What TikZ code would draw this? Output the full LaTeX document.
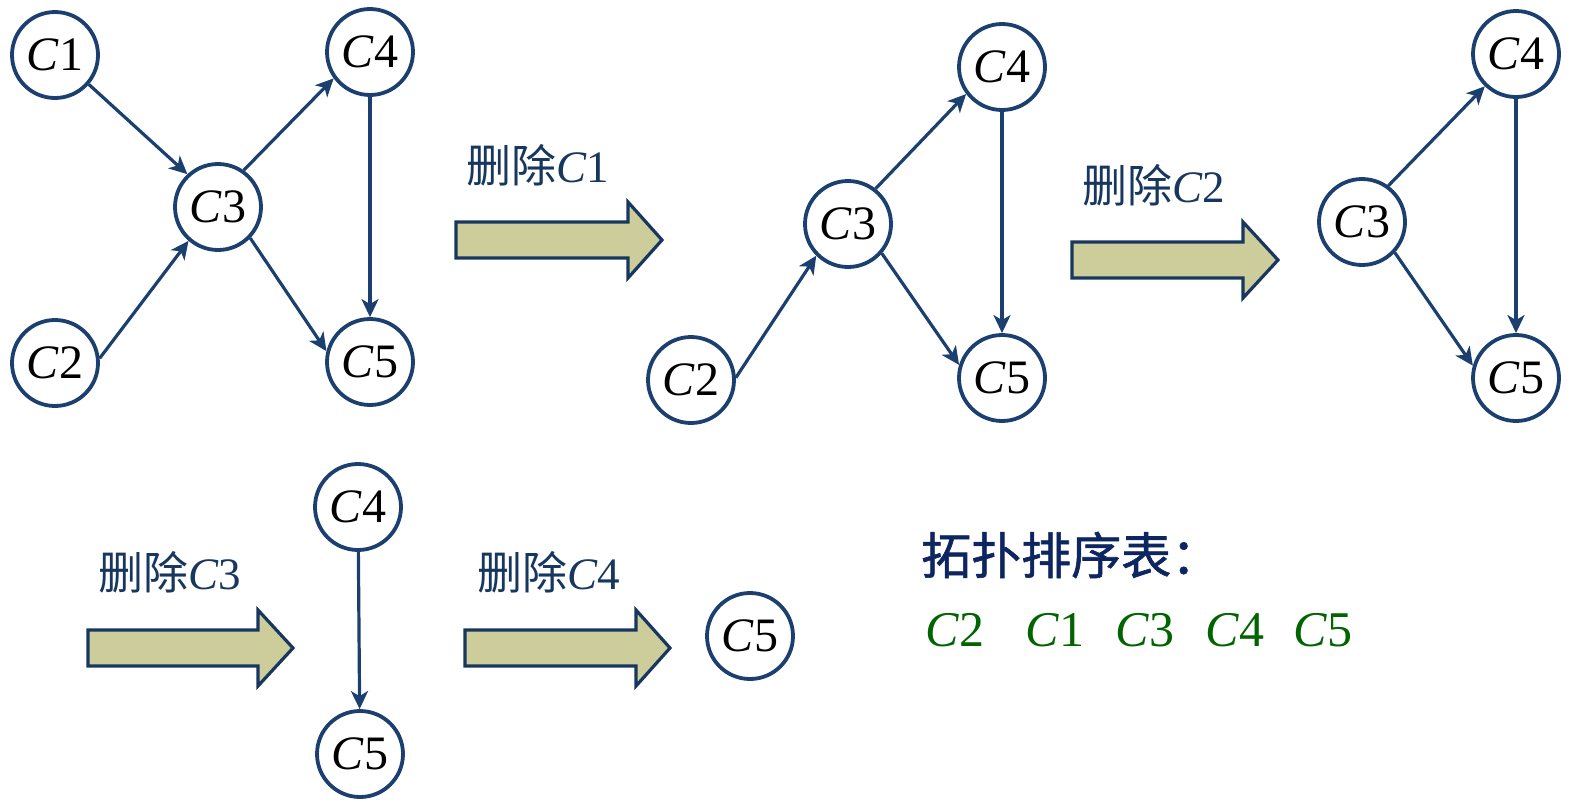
\documentclass[tikz,border=0pt]{standalone}
\usepackage{fontspec}
\setmainfont{Liberation Serif}
\newfontfamily\cjk{Noto Sans CJK SC}
\newfontfamily\cjkm[FakeBold=1.2]{Noto Sans CJK SC}
\usetikzlibrary{arrows.meta}
\definecolor{edge}{HTML}{1B3F6E}
\definecolor{navy}{HTML}{17375E}
\definecolor{titlenavy}{HTML}{0E2660}
\definecolor{khaki}{HTML}{CDCD9C}
\definecolor{seqgreen}{HTML}{006400}
\tikzset{
  vtx/.style={circle,draw=edge,line width=3.8pt,fill=white,minimum size=86pt,inner sep=0pt,font=\fontsize{48}{48}\selectfont},
  conn/.style={draw=edge,line width=3.2pt,-{Stealth[length=18pt,width=17pt,inset=5pt]}},
  fatarrow/.style={draw=navy,line width=3.2pt,fill=khaki,line join=miter},
  lbl/.style={text=navy,font=\fontsize{45}{45}\selectfont,inner sep=0pt},
  seq/.style={text=seqgreen,font=\fontsize{50}{50}\selectfont,inner sep=0pt}
}
\newcommand{\cc}[1]{\textit{C}#1}
\newcommand{\fat}[4]{% x0, x1 (head start), xtip, ymid
  \path[fatarrow] (#1,#4-18) -- (#2,#4-18) -- (#2,#4-38) -- (#3,#4) -- (#2,#4+38) -- (#2,#4+18) -- (#1,#4+18) -- cycle;}
\begin{document}
\begin{tikzpicture}[x=1pt,y=-1pt]
\useasboundingbox (0,0) rectangle (1571,801);
% graph 1
\node[vtx] (a1) at (55,55) {\cc1};
\node[vtx] (a4) at (370,52) {\cc4};
\node[vtx] (a3) at (218,207) {\cc3};
\node[vtx] (a2) at (55,363) {\cc2};
\node[vtx] (a5) at (370,362) {\cc5};
\draw[conn] (a1.-41) -- (a3.133);
\draw[conn] (a2.6) -- (a3.229);
\draw[conn] (a3.55) -- (a4.216);
\draw[conn] (a3.-44) -- (a5.166);
\draw[conn] (a4) -- (a5);
% arrow 1
\fat{456}{628}{662}{240}
\node[lbl] (l1) at (538,165) {{\cjk 删除}\cc1};
% graph 2
\node[vtx] (b4) at (1002,67) {\cc4};
\node[vtx] (b3) at (848,224) {\cc3};
\node[vtx] (b2) at (691,380) {\cc2};
\node[vtx] (b5) at (1002,378) {\cc5};
\draw[conn] (b2.3) -- (b3.225);
\draw[conn] (b3.52) -- (b4.217);
\draw[conn] (b3.-41) -- (b5.163);
\draw[conn] (b4) -- (b5);
% arrow 2
\fat{1072}{1243}{1278}{260}
\node[lbl] (l2) at (1154,185) {{\cjk 删除}\cc2};
% graph 3
\node[vtx] (c4) at (1516,54) {\cc4};
\node[vtx] (c3) at (1362,222) {\cc3};
\node[vtx] (c5) at (1516,378) {\cc5};
\draw[conn] (c3.54) -- (c4.226);
\draw[conn] (c3.-43) -- (c5.164);
\draw[conn] (c4) -- (c5);
% arrow 3
\fat{88}{258}{293}{648}
\node[lbl] (l3) at (170,572) {{\cjk 删除}\cc3};
% graph 4
\node[vtx] (d4) at (358,507) {\cc4};
\node[vtx] (d5) at (360,754) {\cc5};
\draw[conn] (d4) -- (d5);
% arrow 4
\fat{465}{636}{670}{648}
\node[lbl] (l4) at (549,572) {{\cjk 删除}\cc4};
% final
\node[vtx] (e5) at (750,636) {\cc5};
% table
\node[text=titlenavy,font=\cjkm\fontsize{50}{50}\selectfont,inner sep=0pt,anchor=west] (title) at (921,555) {拓扑排序表：};
\node[seq] (s2) at (955,630) {\cc2};
\node[seq] (s1) at (1055,630) {\cc1};
\node[seq] (s3) at (1145,630) {\cc3};
\node[seq] (s4) at (1235,630) {\cc4};
\node[seq] (s5) at (1323,630) {\cc5};
\end{tikzpicture}
\end{document}
